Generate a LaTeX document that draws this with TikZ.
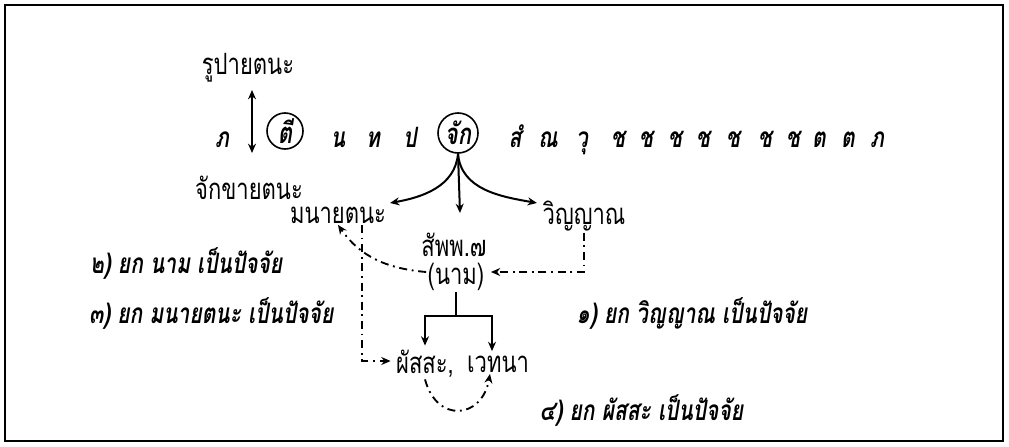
\documentclass[tikz,border=0pt]{standalone}
\usepackage{fontspec}
\setmainfont[Script=Thai,FakeStretch=0.75]{Loma}
\usetikzlibrary{calc,arrows.meta}
\tikzset{
    pali/.style={anchor=base,font=\fontsize{21}{21}\selectfont\bfseries\itshape},
    circd/.style={draw,circle,line width=1.2pt,inner sep=0pt,font=\fontsize{22}{22}\selectfont\bfseries\itshape},
    ayatana/.style={inner sep=1pt,font=\fontsize{22}{22}\selectfont},
    cause/.style={font=\fontsize{21}{21}\selectfont\bfseries\itshape},
    causal/.style={line width=1.4pt,dash pattern=on 6pt off 3.5pt on 1.4pt off 3.5pt},
}
\begin{document}
\begin{tikzpicture}[x=0.75pt,y=-0.75pt,>={Stealth[length=7pt,width=6pt]}]
    \useasboundingbox (0,0) rectangle (1009,446);
    \draw[line width=1.5pt] (5,5) rectangle (1003,441);
    % the pali row
    \node[pali] (bha) at (222,147) {ภ};
    \node[circd,minimum size=27pt] (ti) at (285,131) {ตี};
    \node[pali] (na) at (338,147) {น};
    \node[pali] (tha) at (373,147) {ท};
    \node[pali] (pa) at (410,147) {ป};
    \node[circd,minimum size=30pt] (cak) at (458,133) {จัก};
    \node[pali] (sam) at (515,147) {สํ};
    \node[pali] (nna) at (548,147) {ณ};
    \node[pali] (vu) at (582,147) {วุ};
    \node[pali] (cha1) at (618,147) {ช};
    \node[pali] (cha2) at (646,147) {ช};
    \node[pali] (cha3) at (675,147) {ช};
    \node[pali] (cha4) at (703,147) {ช};
    \node[pali] (cha5) at (733,147) {ช};
    \node[pali] (cha6) at (765,147) {ช};
    \node[pali] (cha7) at (793,147) {ช};
    \node[pali] (ta1) at (819,147) {ต};
    \node[pali] (ta2) at (848,147) {ต};
    \node[pali] (bha2) at (877,147) {ภ};
    % rupa / cakkhu
    \node[ayatana] (rupa) at (248,68) {รูปายตนะ};
    \node[ayatana] (cakkhu) at (249,188) {จักขายตนะ};
    \coordinate (up) at (252,90);
    \coordinate (dn) at (252,153);
    \draw[<->,line width=1.5pt] (up) -- (dn);
    % what cak gives
    \node[ayatana] (mana) at (338,215) {มนายตนะ};
    \node[ayatana] (vinn) at (584,216) {วิญญาณ};
    \node[ayatana] (sabba) at (454,245) {สัพพ.๗};
    \node[ayatana] (nama) at (456,277) {(นาม)};
    \node[ayatana] (phassa) at (425,364) {ผัสสะ,};
    \node[ayatana] (vedana) at (498,364) {เวทนา};
    \coordinate (ltip) at (390,203);
    \coordinate (mtip) at (460,213);
    \coordinate (rtip) at (537,203);
    \draw[->,line width=1.5pt] (cak.south) to[out=-95,in=10] (ltip);
    \draw[->,line width=1.5pt] (cak.south) -- (mtip);
    \draw[->,line width=1.5pt] (cak.south) to[out=-85,in=170] (rtip);
    % nama splits
    \coordinate (fork) at (456,316);
    \draw[line width=1.5pt] (nama.south) -- (fork);
    \draw[->,line width=1.5pt] (fork) -| ($(phassa.north)+(0,-3)$);
    \draw[->,line width=1.5pt] (fork) -| ($(vedana.north)+(-6,-3)$);
    % conditions
    \draw[causal,->] (vinn.south) |- ($(nama.east)+(5,-5)$);
    \draw[causal,->] ($(nama.west)+(0,-5)$) to[out=175,in=-55] (mana.south);
    \draw[causal,->] ($(mana.south)+(24,0)$) |- ($(phassa.west)+(-4,-3)$);
    \draw[causal,->] (phassa.south) to[out=-75,in=-100,looseness=1.8] ($(vedana.south)+(-8,0)$);
    \node[cause,anchor=east] (c2) at (287,263) {๒) ยก นาม เป็นปัจจัย};
    \node[cause,anchor=east] (c3) at (338,313) {๓) ยก มนายตนะ เป็นปัจจัย};
    \node[cause,anchor=west] (c1) at (572,313) {๑) ยก วิญญาณ เป็นปัจจัย};
    \node[cause,anchor=west] (c4) at (535,410) {๔) ยก ผัสสะ เป็นปัจจัย};
\end{tikzpicture}
\end{document}
